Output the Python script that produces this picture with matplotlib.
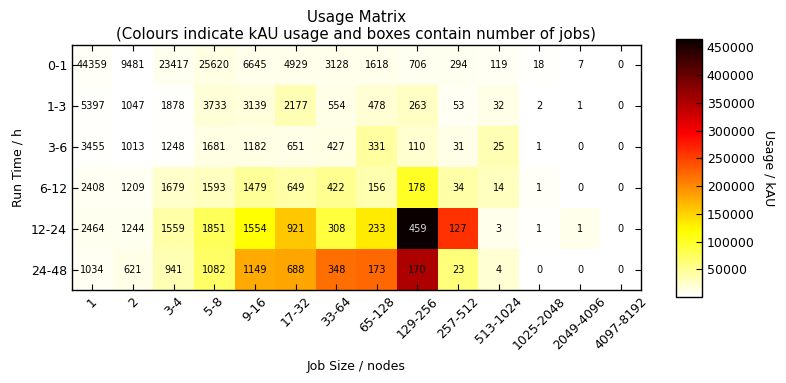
import numpy as np
import matplotlib
matplotlib.use("Agg")
import matplotlib.pyplot as plt

run_times = ["0-1", "1-3", "3-6", "6-12", "12-24", "24-48"]
job_sizes = ["1", "2", "3-4", "5-8", "9-16", "17-32", "33-64", "65-128",
             "129-256", "257-512", "513-1024", "1025-2048", "2049-4096", "4097-8192"]

jobs_0_1   = [44359, 9481, 23417, 25620, 6645, 4929, 3128, 1618, 706, 294, 119, 18, 7, 0]
jobs_1_3   = [5397, 1047, 1878, 3733, 3139, 2177, 554, 478, 263, 53, 32, 2, 1, 0]
jobs_3_6   = [3455, 1013, 1248, 1681, 1182, 651, 427, 331, 110, 31, 25, 1, 0, 0]
jobs_6_12  = [2408, 1209, 1679, 1593, 1479, 649, 422, 156, 178, 34, 14, 1, 0, 0]
jobs_12_24 = [2464, 1244, 1559, 1851, 1554, 921, 308, 233, 459, 127, 3, 1, 1, 0]
jobs_24_48 = [1034, 621, 941, 1082, 1149, 688, 348, 173, 170, 23, 4, 0, 0, 0]

usage_0_1   = [4700, 1500, 8000, 14000, 9500, 9500, 9500, 9500, 9000, 8000, 7000, 3000, 500, 0]
usage_1_3   = [3000, 1000, 2000, 19000, 17000, 35000, 12000, 21000, 28000, 7000, 12000, 1500, 500, 0]
usage_3_6   = [2500, 1500, 3000, 14000, 14000, 12000, 14000, 44000, 23000, 12000, 35000, 500, 0, 0]
usage_6_12  = [6000, 6000, 25000, 30000, 48000, 40000, 52000, 38000, 100000, 40000, 30000, 4000, 0, 0]
usage_12_24 = [8000, 9000, 40000, 77000, 118000, 157000, 90000, 132000, 465000, 260000, 10000, 3000, 10000, 0]
usage_24_48 = [6000, 12000, 35000, 72000, 177000, 180000, 219000, 222000, 352000, 62000, 21000, 0, 0, 0]

cbar_ticks = [50000, 100000, 150000, 200000, 250000, 300000, 350000, 400000, 450000]

jobs = np.array([jobs_0_1, jobs_1_3, jobs_3_6, jobs_6_12, jobs_12_24, jobs_24_48])
usage = np.array([usage_0_1, usage_1_3, usage_3_6, usage_6_12, usage_12_24, usage_24_48])

fig = plt.figure(figsize=(7.86, 3.83), dpi=100)
ax = fig.add_axes([0.0916, 0.2428, 0.7239, 0.6397])
im = ax.imshow(usage, cmap="hot_r", vmin=0, vmax=465000, aspect="auto",
               interpolation="nearest")

for i in range(jobs.shape[0]):
    for j in range(jobs.shape[1]):
        val = usage[i, j]
        color = "#dddddd" if val > 420000 else "black"
        ax.text(j, i, str(jobs[i, j]), ha="center", va="center", fontsize=7, color=color)

ax.set_xticks(np.arange(len(job_sizes)))
ax.set_xticklabels(job_sizes, rotation=45, fontsize=9, ha="center")
ax.set_yticks(np.arange(len(run_times)))
ax.set_yticklabels(run_times, fontsize=9)
ax.tick_params(direction="in", top=True, right=True, length=4, width=0.8)
for s in ax.spines.values():
    s.set_linewidth(1.0)
ax.set_xlabel("Job Size / nodes", fontsize=9, labelpad=6)
ax.set_ylabel("Run Time / h", fontsize=9, labelpad=5)
ax.set_title("Usage Matrix\n(Colours indicate kAU usage and boxes contain number of jobs)",
             fontsize=10.8, pad=4)

cax = fig.add_axes([0.860, 0.2245, 0.033, 0.6735])
cb = fig.colorbar(im, cax=cax, ticks=cbar_ticks)
cb.ax.tick_params(direction="in", length=4, labelsize=9)
cb.set_label("Usage / kAU", rotation=270, fontsize=9, labelpad=15)
cb.outline.set_linewidth(1.0)

fig.savefig("out.png", dpi=100)
